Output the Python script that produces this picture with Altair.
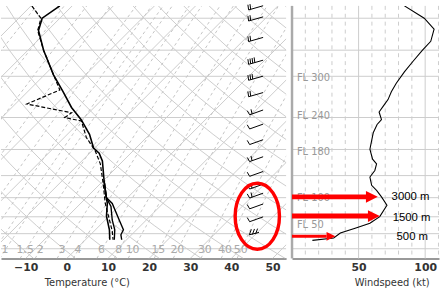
import altair as alt
import pandas as pd

FONT = "DejaVu Sans"
P_TOP, P_BOT = 183.5, 1070
SKEW = "34.77*log(1070/datum.p)"

# ---------------- profile data (pressure hPa, temperature degC) ----------------
temp_p = [183.5, 200, 218, 250, 297, 334, 373, 406, 450, 495, 513, 542, 622, 699, 729, 797, 876, 939]
temp_T = [-63.0, -64.3, -62.2, -56.2, -47.8, -41.4, -35.5, -30.2, -24.6, -20.3, -17.7, -15.0, -9.8, -5.2, -3.5, -0.6, 3.4, 5.9]
t2_p = [622, 699, 744, 818, 876, 939]
t2_T = [-9.8, -5.2, -1.9, 1.7, 4.7, 7.0]
t3_p = [622, 699, 729, 818, 876, 907, 939]
t3_T = [-9.8, -5.2, -2.3, 3.4, 6.8, 7.4, 8.8]
dew_p = [183.5, 200, 218, 250, 297, 330, 364, 387, 400, 410, 459, 506, 553, 635, 729, 808, 884, 939]
dew_T = [-69.8, -64.6, -62.4, -56.2, -47.8, -42.6, -47.2, -34.2, -34.7, -29.8, -24.7, -19.1, -14.8, -9.3, -4.0, 0.5, 4.4, 6.7]

# ---------------- wind speed profile ----------------
wind_p = [183.5, 200, 216, 235, 250, 271, 291, 315, 334, 353, 370, 385, 406, 420, 445, 499, 535, 553, 579, 606, 642, 665, 696, 738, 799, 837, 866, 896, 928, 943]
wind_kt = [84.4, 99.3, 106.7, 104.2, 98, 90.6, 84.4, 78.3, 74.6, 72.1, 68.4, 65.4, 67.2, 63.9, 61, 58.5, 60.5, 63.5, 62.2, 58.5, 59.8, 63.5, 67.2, 71.3, 65.9, 58.5, 47.4, 36.3, 31.3, 15.3]

# ---------------- wind barbs ----------------
barb_p = [186, 201, 232, 272, 304, 341, 386, 426, 475, 535, 593, 648, 690, 744, 814, 890]
barb_kind = ["t2", "t2", "t2", "t4", "t3", "t2", "hook1", "hook", "hook", "hook1", "hook", "hook1", "hook1", "hook", "hook", "low3"]

# ---------------- background reference lines ----------------
isobars = [200, 250, 300, 400, 500, 600, 700, 800, 900, 1000]
isotherms = list(range(-80, 60, 10))
thetas = list(range(250, 450, 10))
mix_w = [0.02, 0.05, 0.1, 0.2, 0.4, 0.6, 0.8, 1, 1.5, 2, 3, 4, 6, 8, 10, 15, 20, 30, 40, 50]
mix_labels = [1, 1.5, 2, 3, 4, 6, 8, 10, 15, 20, 30, 40, 50]
curve_p = [1070, 1000, 925, 850, 775, 700, 625, 550, 500, 450, 400, 350, 300, 250, 200, 183.5]
kt_dashed = [10, 20, 30, 40, 60, 70, 80, 90, 110]
kt_solid = [50, 100]

# flight levels (pressure)
fl_names = ["FL 300", "FL 240", "FL 180", "FL 100", "FL 50"]
fl_p = [301, 393, 506, 697, 843]

# annotations
arrow_p = [696, 796, 917]
arrow_tip = [64.4, 65.9, 32.6]
arrow_shaft_end = [56.5, 58.0, 26.0]
arrow_width = [5, 5, 3]
arrow_head = [144, 144, 81]
arrow_text = ["3000 m", "1500 m", "500 m"]
text_p = [698, 808, 921]
text_kt = [74.8, 75.6, 78.5]
ellipse_X = [46.3]
ellipse_p = [797]

# ---------------- tables ----------------
def table(**cols):
    return pd.DataFrame(cols)

def profile(ps, ts, name):
    return pd.DataFrame({"p": ps, "T": ts, "i": range(len(ps)), "s": name})

iso_df = pd.DataFrame([{"T": t, "p": p, "i": k} for t in isotherms for k, p in enumerate([P_BOT, P_TOP])])
dry_df = pd.DataFrame([{"theta": th, "p": p, "i": k} for th in thetas for k, p in enumerate(curve_p)])
mix_df = pd.DataFrame([{"w": w, "p": p, "i": k} for w in mix_w for k, p in enumerate(curve_p)])
mixlab_df = pd.DataFrame({"w": mix_labels, "p": 1012, "lab": [str(v) for v in mix_labels]})

yscale = alt.Scale(type="log", domain=[P_TOP, P_BOT], reverse=True, nice=False)
Y = alt.Y("p:Q", scale=yscale, axis=None)

left_axis = alt.Axis(values=[-10, 0, 10, 20, 30, 40, 50], title="Temperature (°C)", grid=False, ticks=False,
                     labelFont=FONT, labelFontWeight="bold", labelFontSize=11, labelColor="#333",
                     labelPadding=3, domainColor="#999", domainWidth=2,
                     titleFont=FONT, titleFontWeight="normal", titleFontSize=10, titleColor="#333",
                     titleX=87, titleAlign="center", titlePadding=5)
LX = alt.X("X:Q", scale=alt.Scale(domain=[-16, 53.3], nice=False, zero=False), axis=left_axis)

GRID = "#cccccc"

l_isobar = alt.Chart(table(p=isobars)).mark_rule(color=GRID, strokeWidth=1).encode(y=Y)
l_isotherm = alt.Chart(iso_df).transform_calculate(X="datum.T + " + SKEW).mark_line(
    color=GRID, strokeWidth=1, clip=True).encode(x=LX, y=Y, detail="T:N", order="i:Q")
l_dry = alt.Chart(dry_df).transform_calculate(
    T="datum.theta*pow(datum.p/1000, 0.2857) - 273.15").transform_calculate(
    X="datum.T + " + SKEW).mark_line(color=GRID, strokeWidth=1, clip=True).encode(
    x=LX, y=Y, detail="theta:N", order="i:Q")
mix_expr_L = "log((datum.w*datum.p/(622+datum.w))/6.112)"
l_mix = alt.Chart(mix_df).transform_calculate(L=mix_expr_L).transform_calculate(
    T="243.5*datum.L/(17.67-datum.L)").transform_calculate(X="datum.T + " + SKEW).mark_line(
    color="#c4c4c4", strokeWidth=1, strokeDash=[3, 3], clip=True).encode(
    x=LX, y=Y, detail="w:N", order="i:Q")
l_mixlab = alt.Chart(mixlab_df).transform_calculate(L=mix_expr_L).transform_calculate(
    T="243.5*datum.L/(17.67-datum.L)").transform_calculate(X="datum.T + " + SKEW).mark_text(
    color="#aaaaaa", font=FONT, fontSize=11, baseline="middle").encode(x=LX, y=Y, text="lab:N")

def prof_layer(df, width, dash=None):
    kw = dict(color="black", strokeWidth=width, clip=True)
    if dash:
        kw["strokeDash"] = dash
    return alt.Chart(df).transform_calculate(X="datum.T + " + SKEW).mark_line(**kw).encode(
        x=LX, y=Y, order="i:Q")

l_temp = prof_layer(profile(temp_p, temp_T, "T"), 1.6)
l_t2 = prof_layer(profile(t2_p, t2_T, "T2"), 1.4)
l_t3 = prof_layer(profile(t3_p, t3_T, "T3"), 1.4)
l_dew = prof_layer(profile(dew_p, dew_T, "Td"), 1.2, [4, 2])

def barb_path(n):
    s = "M-1,0.3 L1.1,-0.3"
    for k in range(n):
        sx = -1 + 0.3 * k
        sy = 0.3 - 0.3 * (sx + 1) / 2.1 * 2
        s += f" M{sx:.2f},{sy:.2f} L{sx - 0.1:.2f},{sy - 0.75:.2f}"
    return s

paths = {
    "t2": barb_path(2),
    "t3": barb_path(3),
    "t4": barb_path(4),
    "hook": "M-1.2,-0.25 L-0.85,0.35 L1.1,-0.35",
    "hook1": "M-1.2,-0.25 L-0.85,0.35 L1.1,-0.35 M-0.5,0.24 L-0.65,-0.45",
    "low3": "M-0.9,0.4 L-0.6,-0.4 M-0.45,0.35 L-0.15,-0.45 M0,0.3 L0.3,-0.5 M-0.9,0.4 L0.5,0.05",
}
kinds = list(paths.keys())
l_barb = alt.Chart(table(p=barb_p, kind=barb_kind)).mark_point(
    filled=False, color="black", strokeWidth=1, size=196, opacity=1).encode(
    x=alt.value(258), y=Y,
    shape=alt.Shape("kind:N", scale=alt.Scale(domain=kinds, range=[paths[k] for k in kinds]), legend=None))

ellipse_path = "M-0.67,0 A0.67,1 0 1,1 0.67,0 A0.67,1 0 1,1 -0.67,0 Z"
l_ell = alt.Chart(table(X=ellipse_X, p=ellipse_p)).mark_point(
    shape=ellipse_path, size=4489, filled=False, color="#ff0000", strokeWidth=3.5, opacity=1).encode(x=LX, y=Y)

left = alt.layer(l_isobar, l_isotherm, l_dry, l_mix, l_mixlab, l_dew, l_t2, l_t3, l_temp, l_barb, l_ell).properties(
    width=289, height=256)

# ---------------- right panel ----------------
right_axis = alt.Axis(values=[50, 100], title="Windspeed (kt)", grid=False, ticks=False,
                      labelFont=FONT, labelFontWeight="bold", labelFontSize=11, labelColor="#333",
                      labelPadding=3, domainColor="#999", domainWidth=2,
                      titleFont=FONT, titleFontWeight="normal", titleFontSize=10, titleColor="#333",
                      titleX=101, titleAlign="center", titlePadding=5)
RX = alt.X("kt:Q", scale=alt.Scale(domain=[0, 110.4], nice=False, zero=False), axis=right_axis)

r_isobar = alt.Chart(table(p=isobars)).mark_rule(color=GRID, strokeWidth=1).encode(y=Y)
r_vdash = alt.Chart(table(kt=kt_dashed)).mark_rule(color=GRID, strokeWidth=1, strokeDash=[4, 4]).encode(x=RX)
r_vsolid = alt.Chart(table(kt=kt_solid)).mark_rule(color=GRID, strokeWidth=1).encode(x=RX)
r_sep = alt.Chart(table(kt=[0])).mark_rule(color="#aaaaaa", strokeWidth=2.5).encode(x=RX)
r_fl = alt.Chart(table(p=fl_p, name=fl_names)).mark_text(
    color="#999999", font=FONT, fontSize=10, align="left", baseline="middle", dy=1).encode(
    x=alt.value(5), y=Y, text="name:N")
r_wind = alt.Chart(table(p=wind_p, kt=wind_kt, i=list(range(len(wind_p))))).mark_line(
    color="black", strokeWidth=1.1, clip=True).encode(x=RX, y=Y, order="i:Q")
arrows_df = table(p=arrow_p, kt=[0, 0, 0], end=arrow_shaft_end, tip=arrow_tip, w=arrow_width, hs=arrow_head)
r_shaft = alt.Chart(arrows_df).mark_rule(color="#ff0000").encode(
    x=RX, x2="end:Q", y=Y, strokeWidth=alt.StrokeWidth("w:Q", scale=None))
r_head = alt.Chart(arrows_df).mark_point(
    shape="M-2,-1 L0,0 L-2,1 Z", filled=True, color="#ff0000", opacity=1, strokeWidth=0).encode(
    x=alt.X("tip:Q", scale=alt.Scale(domain=[0, 110.4], nice=False, zero=False), axis=right_axis),
    y=Y, size=alt.Size("hs:Q", scale=None))
r_text = alt.Chart(table(p=text_p, kt=text_kt, t=arrow_text)).mark_text(
    font="Liberation Sans", fontSize=11.5, color="black", align="left", baseline="middle").encode(
    x=RX, y=Y, text="t:N")

right = alt.layer(r_isobar, r_vdash, r_vsolid, r_sep, r_fl, r_wind, r_shaft, r_head, r_text).properties(
    width=149, height=256)

chart = alt.hconcat(left, right, spacing=2).properties(padding=0).configure_view(stroke=None)

chart.save("out.html", embed_options={"renderer": "svg", "actions": False})
